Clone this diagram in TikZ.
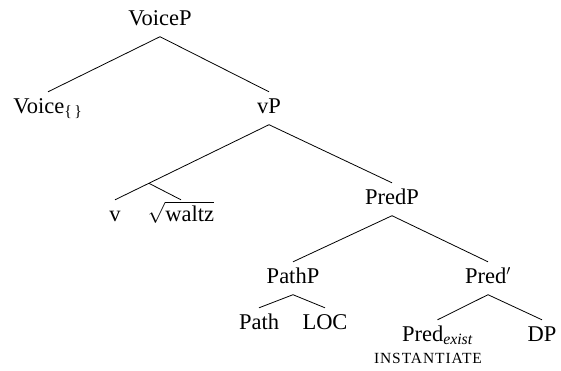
\documentclass[tikz,border=0pt]{standalone}
\usepackage{fontspec}
\setmainfont{Liberation Serif}
\usetikzlibrary{calc}
\begin{document}
\begin{tikzpicture}[x=1pt,y=-1pt,
  lbl/.style={anchor=base,inner xsep=0pt,inner ysep=7pt,text height=14pt,text depth=4.5pt,
    font=\fontsize{22.5}{26}\selectfont},
  branch/.style={line width=0.8pt}]
\useasboundingbox (0,0) rectangle (561,370);
\node[lbl] (VoiceP) at (160,25) {VoiceP};
\node[lbl] (Voice) at (48,113) {Voice\textsubscript{\{\,\}}};
\node[lbl] (vP) at (269,113) {vP};
\node[lbl] (v) at (115,221) {v};
\node[lbl] (waltz) at (181,221) {$\sqrt{\mbox{waltz}}$};
\node[lbl] (PredP) at (392,204) {PredP};
\node[lbl] (PathP) at (293,283) {PathP};
\node[lbl] (Predbar) at (488,283) {Pred$'$};
\node[lbl] (Path) at (259,329) {Path};
\node[lbl] (LOC) at (325,329) {LOC};
\node[lbl] (Predex) at (437.5,341) {Pred\textsubscript{\textit{exist}}};
\node[lbl] (DP) at (542,341) {DP};
\node[anchor=base,inner sep=0pt,font=\fontsize{15.5}{18}\selectfont\addfontfeature{LetterSpace=6}] (inst) at (428,363) {INSTANTIATE};
\draw[branch] (VoiceP.south) -- (Voice.north);
\draw[branch] (VoiceP.south) -- (vP.north);
\draw[branch] (vP.south) -- (v.north);
\coordinate (vj) at ($(vP.south)!0.78!(v.north)$);
\draw[branch] (vj) -- (waltz.north);
\draw[branch] (vP.south) -- (PredP.north);
\draw[branch] (PredP.south) -- (PathP.north);
\draw[branch] (PredP.south) -- (Predbar.north);
\draw[branch] (PathP.south) -- (Path.north);
\draw[branch] (PathP.south) -- (LOC.north);
\draw[branch] (Predbar.south) -- (Predex.north);
\draw[branch] (Predbar.south) -- (DP.north);
\end{tikzpicture}
\end{document}
